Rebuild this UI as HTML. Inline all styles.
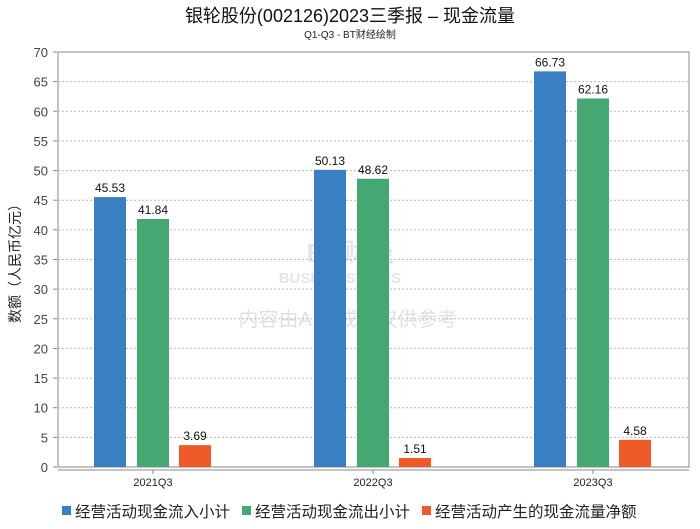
<!DOCTYPE html>
<html><head><meta charset="utf-8"><style>
body{margin:0;background:#fff;}
svg text{font-family:"Liberation Sans","Noto Sans CJK SC",sans-serif;}
</style></head><body>
<svg width="700" height="524" xmlns="http://www.w3.org/2000/svg" id="chart">
<text x="350" y="22" text-anchor="middle" font-size="18" fill="#111">银轮股份(002126)2023三季报 – 现金流量</text>
<text x="350" y="38" text-anchor="middle" font-size="10" fill="#222">Q1-Q3 - BT财经绘制</text>
<g id="watermark" opacity="0.25">
<text x="350" y="262" text-anchor="middle" font-size="26" font-family="Liberation Serif,serif" fill="#99a" font-weight="bold">BT财经</text>
<text x="340" y="283" text-anchor="middle" font-size="15" font-family="Liberation Serif,serif" fill="#99a" font-weight="bold">BUSINESSTIMES</text>
<text x="348" y="326" text-anchor="middle" font-size="20" fill="#888">内容由AI生成，仅供参考</text>
</g>
<g id="grid"></g>
<rect x="58" y="52" width="631" height="415" fill="none" stroke="#888" stroke-width="1"/>
<g id="bars"></g>
<g id="axes"></g>
<text transform="translate(20,260) rotate(-90)" text-anchor="middle" font-size="14" fill="#222">数额（人民币亿元）</text>
<g id="legend"></g>
</svg>
<script>
const categories=["2021Q3","2022Q3","2023Q3"];
const inflow=[45.53,50.13,66.73];
const outflow=[41.84,48.62,62.16];
const net=[3.69,1.51,4.58];
const seriesNames=["经营活动现金流入小计","经营活动现金流出小计","经营活动产生的现金流量净额"];
const colors=["#3a7fc1","#45a872","#f05a28"];
const yTicks=[0,5,10,15,20,25,30,35,40,45,50,55,60,65,70];
const NS="http://www.w3.org/2000/svg";
const L=58,R=689,T=52,B=467,ymax=70;
const y=v=>B-(v/ymax)*(B-T);
const gw=220;
const x=i=>373+gw*(i-(categories.length-1)/2);
function mk(tag,at,parent){const e=document.createElementNS(NS,tag);for(const k in at)e.setAttribute(k,at[k]);parent.appendChild(e);return e;}
const grid=document.getElementById('grid'),axes=document.getElementById('axes'),bars=document.getElementById('bars'),legend=document.getElementById('legend');
yTicks.forEach(t=>{
 if(t>0&&t<ymax){const g=mk('line',{x1:L,x2:R,y1:y(t),y2:y(t),stroke:'#bbb','stroke-dasharray':'2,2'},grid);
 
 }
 const tx=mk('text',{x:48,y:y(t)+5,'text-anchor':'end','font-size':13,fill:'#444'},axes);tx.textContent=t;
 
 
 const tk=mk('line',{x1:53,x2:57,y1:y(t),y2:y(t),stroke:'#888'},axes);
 
 
});
const xl=mk('line',{x1:L,x2:R,y1:470,y2:470,stroke:'#888'},axes);


const series=[inflow,outflow,net];
const off=[-43,0,42],bw=32;
categories.forEach((c,i)=>{
 const t=mk('text',{x:x(i),y:486,'text-anchor':'middle','font-size':11,fill:'#222'},axes);t.textContent=c;
 
 
 const tk=mk('line',{x1:x(i),x2:x(i),y1:470,y2:474,stroke:'#888'},axes);
 
 
 series.forEach((s,j)=>{
  const cx=x(i)+off[j];
  const r=mk('rect',{x:cx-bw/2,y:y(s[i]),width:bw,height:B-y(s[i]),fill:colors[j]},bars);
  
  
  const lb=mk('text',{x:cx,y:y(s[i])-5,'text-anchor':'middle','font-size':12,fill:'#111'},bars);lb.textContent=s[i].toFixed(2);
  
  
 });
});
let lx=62;
seriesNames.forEach((n,j)=>{
 const g=mk('g',{},legend);
 
 
 mk('rect',{x:lx,y:506,width:9,height:9,fill:colors[j]},g);
 const t=mk('text',{x:lx+13,y:517,'font-size':15.5,fill:'#222'},g);t.textContent=n;
 lx+=13+n.length*15.5+12;
});
</script>
</body></html>
